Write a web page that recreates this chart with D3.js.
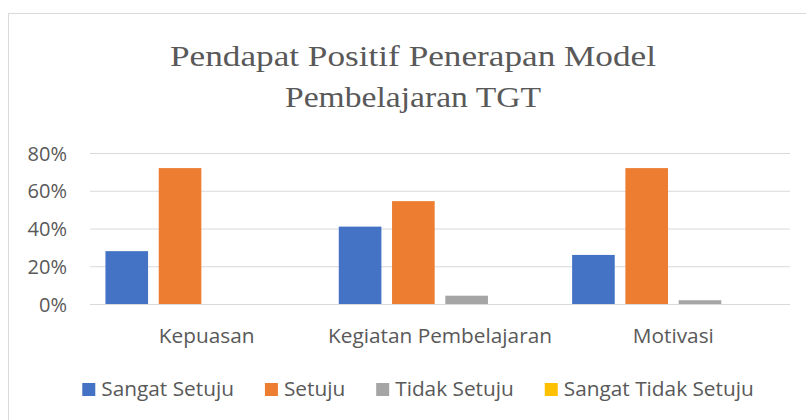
<!DOCTYPE html>
<meta charset="utf-8">
<style>
body { margin: 0; background: #fff; }
.chart text { fill: #595959; font-family: "Open Sans", sans-serif; }
.chart .title { font-family: "Liberation Serif", serif; font-size: 30px; text-anchor: middle; }
.chart .grid line { stroke: #d9d9d9; stroke-width: 1; }
.chart .grid text { font-size: 20px; }
.chart .cat text { font-size: 20.8px; }
.chart .legend text { font-size: 20.8px; }
</style>

<svg class="chart"></svg>

<script src="https://cdn.jsdelivr.net/npm/d3@7"></script>

<script>

// data
var categories = ["Kepuasan", "Kegiatan Pembelajaran", "Motivasi"];
var seriesNames = ["Sangat Setuju", "Setuju", "Tidak Setuju", "Sangat Tidak Setuju"];
var sangatSetuju = [0.28, 0.41, 0.26];
var setuju = [0.72, 0.545, 0.72];
var tidakSetuju = [0, 0.044, 0.02];
var sangatTidakSetuju = [0, 0, 0];
var yTicks = [0, 0.2, 0.4, 0.6, 0.8];
var titleLines = ["Pendapat Positif Penerapan Model", "Pembelajaran TGT"];
var colors = ["#4472c4", "#ed7d31", "#a5a5a5", "#ffc000"];

var values = [sangatSetuju, setuju, tidakSetuju, sangatTidakSetuju];

var W = 806, H = 420;
var margin = {top: 153, right: 16, bottom: 116, left: 90},
    width = W - margin.left - margin.right,
    height = H - margin.top - margin.bottom;

var svg = d3.select(".chart")
	.attr("width", W)
	.attr("height", H);

// chart area border (runs off the right and bottom edges)
svg.append("rect")
	.attr("x", 8.5).attr("y", 13.5)
	.attr("width", W + 20).attr("height", H + 20)
	.attr("fill", "none")
	.attr("stroke", "#d9d9d9");

// title - the original face is wider than Liberation Serif, so stretch it
var titleWidths = [486, 256];
svg.append("text")
	.attr("class", "title")
	.selectAll("tspan")
	.data(titleLines)
  .enter().append("tspan")
	.attr("x", 413)
	.attr("y", function(d, i) { return 66 + i * 41; })
	.attr("textLength", function(d, i) { return titleWidths[i]; })
	.attr("lengthAdjust", "spacingAndGlyphs")
	.text(function(d) { return d; });

var chart = svg.append("g")
	.attr("transform", "translate(" + margin.left + "," + margin.top + ")");

var x0 = d3.scaleBand()
	.domain(categories)
	.range([0, width]);

var x1 = d3.scaleBand()
	.domain(seriesNames)
	.range([0, x0.bandwidth()])
	.paddingInner(0.2)
	.paddingOuter(0.29);

var y = d3.scaleLinear()
	.domain([0, 0.8])
	.range([height, 0]);

var yAxis = d3.axisLeft(y)
	.tickValues(yTicks)
	.tickFormat(d3.format(".0%"))
	.tickSize(-width)
	.tickPadding(23);

var gy = chart.append("g")
	.attr("class", "grid")
	.call(yAxis);
gy.select(".domain").remove();
gy.selectAll("text").attr("dy", "0.36em");

// bars
var groups = chart.selectAll(".group")
	.data(categories)
  .enter().append("g")
	.attr("class", "group")
	.attr("transform", function(d) { return "translate(" + x0(d) + ",0)"; });

groups.selectAll("rect")
	.data(function(d, i) {
		return seriesNames.map(function(s, j) { return {s: s, v: values[j][i], c: colors[j]}; });
	})
  .enter().append("rect")
	.attr("x", function(d) { return x1(d.s); })
	.attr("width", x1.bandwidth())
	.attr("y", function(d) { return y(d.v); })
	.attr("height", function(d) { return height - y(d.v); })
	.attr("fill", function(d) { return d.c; });

// category labels
chart.append("g")
	.attr("class", "cat")
	.selectAll("text")
	.data(categories)
  .enter().append("text")
	.attr("x", function(d) { return x0(d) + x0.bandwidth() / 2; })
	.attr("y", height + 39)
	.attr("text-anchor", "middle")
	.text(function(d) { return d; });

// legend, centred under the chart
var legend = svg.append("g").attr("class", "legend");
var items = legend.selectAll("g")
	.data(seriesNames)
  .enter().append("g");

items.append("rect")
	.attr("width", 13).attr("height", 13)
	.attr("y", -13)
	.attr("fill", function(d, i) { return colors[i]; });

items.append("text")
	.attr("x", 19)
	.text(function(d) { return d; });

var offs = [], total = 0;
items.each(function() {
	offs.push(total);
	total += this.getBBox().width + 31;
});
total -= 31;
items.attr("transform", function(d, i) { return "translate(" + offs[i] + ",0)"; });
legend.attr("transform", "translate(" + (418 - total / 2) + ",396)");

</script>
